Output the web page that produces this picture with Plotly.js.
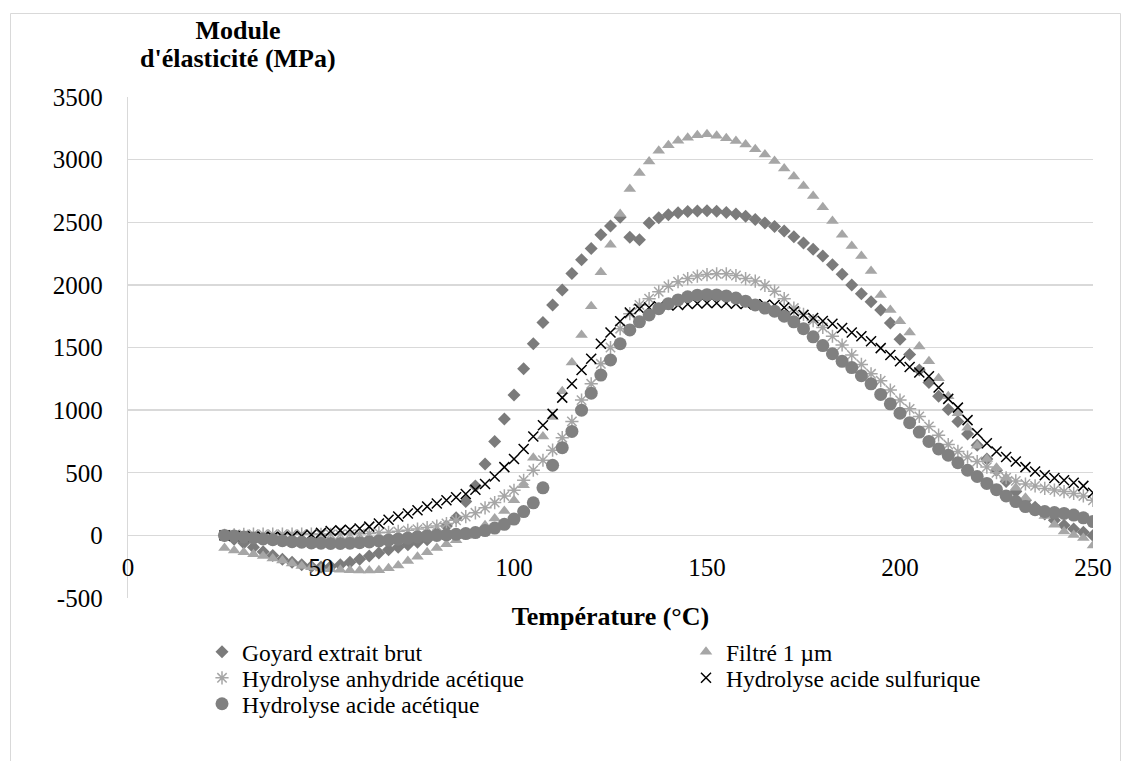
<!DOCTYPE html>
<html>
<head>
<meta charset="utf-8">
<script src="https://cdn.plot.ly/plotly-3.0.1.min.js"></script>
<style>html,body{margin:0;padding:0;background:#fff;}#chart{width:1131px;height:761px;}</style>
</head>
<body>
<div id="chart"></div>
<script>
// Temperature (°C)
const temperature = [25, 27.5, 30, 32.5, 35, 37.5, 40, 42.5, 45, 47.5, 50, 52.5, 55, 57.5, 60, 62.5, 65, 67.5, 70, 72.5,
  75, 77.5, 80, 82.5, 85, 87.5, 90, 92.5, 95, 97.5, 100, 102.5, 105, 107.5, 110, 112.5, 115, 117.5, 120, 122.5,
  125, 127.5, 130, 132.5, 135, 137.5, 140, 142.5, 145, 147.5, 150, 152.5, 155, 157.5, 160, 162.5, 165, 167.5, 170, 172.5,
  175, 177.5, 180, 182.5, 185, 187.5, 190, 192.5, 195, 197.5, 200, 202.5, 205, 207.5, 210, 212.5, 215, 217.5, 220, 222.5,
  225, 227.5, 230, 232.5, 235, 237.5, 240, 242.5, 245, 247.5, 250];

// Module d'élasticité (MPa)
const goyardBrut = [0, -30, -60, -95, -130, -160, -190, -215, -235, -248, -252, -248, -235, -215, -190, -165, -140, -115, -95, -75,
  -55, -35, 20, 75, 140, 270, 395, 570, 750, 930, 1120, 1330, 1530, 1700, 1840, 1960, 2090, 2200, 2290, 2400,
  2470, 2540, 2380, 2360, 2495, 2535, 2560, 2575, 2585, 2590, 2592, 2588, 2578, 2565, 2548, 2522, 2495, 2466, 2430, 2385,
  2335, 2285, 2230, 2160, 2085, 2000, 1930, 1865, 1800, 1695, 1565, 1445, 1320, 1220, 1110, 1005, 910, 810, 720, 610,
  520, 430, 350, 280, 225, 170, 120, 80, 50, 25, 0];

const filtre1um = [-100, -120, -135, -150, -165, -185, -200, -225, -245, -255, -265, -270, -275, -278, -280, -280, -278, -262, -240, -205,
  -170, -135, -100, -70, -38, -5, 30, 80, 135, 195, 280, 400, 620, 790, 945, 1150, 1380, 1600, 1830, 2100,
  2320, 2565, 2766, 2894, 2985, 3070, 3115, 3150, 3175, 3195, 3202, 3190, 3170, 3148, 3120, 3082, 3040, 2990, 2930, 2865,
  2790, 2710, 2620, 2510, 2400, 2310, 2230, 2110, 1920, 1800, 1710, 1620, 1507, 1390, 1255, 1110, 975, 860, 715, 610,
  540, 460, 380, 300, 210, 155, 85, 30, 2, -20, -80];

const hydAnhydride = [0, 5, 8, 10, 10, 10, 10, 10, 10, 10, 8, 8, 8, 10, 12, 15, 20, 25, 32, 40,
  50, 62, 75, 95, 120, 150, 180, 220, 262, 315, 360, 440, 520, 600, 680, 780, 910, 1080, 1210, 1370,
  1500, 1650, 1770, 1840, 1890, 1945, 1990, 2025, 2050, 2070, 2082, 2088, 2088, 2075, 2050, 2030, 1995, 1950, 1890, 1815,
  1765, 1715, 1660, 1590, 1520, 1440, 1365, 1290, 1235, 1160, 1080, 1010, 950, 870, 800, 725, 670, 625, 590, 545,
  500, 460, 435, 410, 395, 375, 362, 350, 335, 315, 280];

const hydSulfurique = [0, -5, -8, -10, -12, -12, -12, -10, -5, 5, 20, 35, 40, 45, 55, 70, 95, 125, 150, 175,
  200, 230, 255, 280, 305, 330, 365, 410, 470, 545, 610, 690, 790, 880, 970, 1100, 1210, 1320, 1410, 1530,
  1620, 1710, 1780, 1810, 1820, 1830, 1835, 1840, 1848, 1852, 1855, 1855, 1855, 1850, 1848, 1845, 1842, 1840, 1820, 1790,
  1760, 1735, 1712, 1690, 1655, 1620, 1590, 1550, 1495, 1440, 1390, 1345, 1300, 1270, 1180, 1090, 1020, 920, 815, 735,
  670, 625, 590, 545, 510, 480, 458, 440, 420, 395, 340];

const hydAcetique = [0, -5, -12, -20, -28, -35, -42, -50, -55, -60, -63, -65, -65, -62, -58, -52, -45, -38, -30, -22,
  -12, -5, 0, 4, 8, 14, 22, 38, 58, 88, 130, 190, 260, 380, 560, 700, 830, 1000, 1135, 1280,
  1400, 1530, 1640, 1705, 1760, 1810, 1850, 1880, 1905, 1918, 1922, 1920, 1912, 1895, 1870, 1840, 1815, 1790, 1750, 1705,
  1650, 1585, 1515, 1450, 1390, 1340, 1275, 1210, 1125, 1050, 975, 900, 825, 750, 690, 640, 580, 520, 470, 415,
  365, 315, 270, 230, 205, 190, 182, 175, 162, 140, 110];

const seriesNames = ['Goyard extrait brut', 'Filtré 1 µm', 'Hydrolyse anhydride acétique',
  'Hydrolyse acide sulfurique', 'Hydrolyse acide acétique'];
const xTickValues = [0, 50, 100, 150, 200, 250];
const yTickValues = [-500, 0, 500, 1000, 1500, 2000, 2500, 3000, 3500];

const FONT = 'Liberation Serif, Times New Roman, serif';

const traces = [
  {x: temperature, y: goyardBrut, name: seriesNames[0], type: 'scatter', mode: 'markers', legend: 'legend',
   marker: {symbol: 'diamond', size: 10, color: '#7b7b7b'}},
  {x: temperature, y: filtre1um, name: seriesNames[1], type: 'scatter', mode: 'markers', legend: 'legend2',
   marker: {symbol: 'triangle-up', size: 11, color: '#a6a6a6'}},
  {x: temperature, y: hydAnhydride, name: seriesNames[2], type: 'scatter', mode: 'markers', legend: 'legend3',
   marker: {symbol: 'asterisk-open', size: 11, color: '#a6a6a6', line: {color: '#a6a6a6', width: 1.5}}},
  {x: temperature, y: hydSulfurique, name: seriesNames[3], type: 'scatter', mode: 'markers', legend: 'legend4',
   marker: {symbol: 'x-thin-open', size: 10, color: '#000000', line: {color: '#000000', width: 1.5}}},
  {x: temperature, y: hydAcetique, name: seriesNames[4], type: 'scatter', mode: 'markers', legend: 'legend5',
   marker: {symbol: 'circle', size: 13, color: '#808080'}}
];

const L = 128, R = 1093, T = 97, B = 598;
const W = 1131, H = 761;
const pw = R - L, ph = B - T;
function px2paperX(p) { return (p - L) / pw; }
function px2paperY(p) { return (B - p) / ph; }

function legendAt(markerX, rowY) {
  return {
    orientation: 'v', xanchor: 'left', yanchor: 'top',
    x: px2paperX(markerX - 20), y: px2paperY(rowY - 23),
    font: {family: FONT, size: 23.5, color: '#000000'},
    bgcolor: 'rgba(0,0,0,0)', borderwidth: 0, itemclick: false, itemdoubleclick: false
  };
}

const layout = {
  width: W, height: H,
  margin: {l: L, r: W - R, t: T, b: H - B, pad: 0},
  paper_bgcolor: '#ffffff', plot_bgcolor: '#ffffff',
  font: {family: FONT, color: '#000000', size: 24},
  showlegend: true,
  title: {
    text: 'Module',
    font: {family: FONT, size: 26, color: '#000000', weight: 'bold'},
    xref: 'container', yref: 'container',
    x: 238 / W, xanchor: 'center',
    y: 1 - 29.5 / H, yanchor: 'middle'
  },
  annotations: [
    {text: "d'élasticité (MPa)", xref: 'paper', yref: 'paper',
     x: px2paperX(238), y: px2paperY(58.5), xanchor: 'center', yanchor: 'middle', showarrow: false,
     font: {family: FONT, size: 26, color: '#000000', weight: 'bold'}}
  ],
  xaxis: {
    range: [0, 250], tickvals: xTickValues, ticktext: xTickValues.map(String),
    showgrid: false, zeroline: false, showline: false,
    anchor: 'free', position: 500 / 4000,
    ticks: 'outside', ticklen: 10, tickcolor: 'rgba(0,0,0,0)',
    tickfont: {family: FONT, size: 25, color: '#000000'},
    title: {text: 'Température (°C)', font: {family: FONT, size: 26, color: '#000000', weight: 'bold'}, standoff: 26},
    fixedrange: true
  },
  yaxis: {
    range: [-500, 3500], tickvals: yTickValues, ticktext: yTickValues.map(String),
    showgrid: true, gridcolor: '#d9d9d9', gridwidth: 1.3,
    zeroline: false, showline: true, linecolor: '#d9d9d9', linewidth: 1.3,
    ticks: 'outside', ticklen: 19, tickcolor: 'rgba(0,0,0,0)',
    tickfont: {family: FONT, size: 25, color: '#000000'},
    fixedrange: true
  },
  legend: legendAt(222, 653),
  legend2: legendAt(706, 653),
  legend3: legendAt(222, 679),
  legend4: legendAt(706, 679),
  legend5: legendAt(222, 705),
  shapes: [
    {type: 'rect', xref: 'paper', yref: 'paper',
     x0: px2paperX(10.5), x1: px2paperX(1120.5), y0: px2paperY(790), y1: px2paperY(13.5),
     line: {color: '#d9d9d9', width: 1}, fillcolor: 'rgba(0,0,0,0)', layer: 'below'}
  ]
};

Plotly.newPlot('chart', traces, layout, {displayModeBar: false, staticPlot: true});
</script>
</body>
</html>
